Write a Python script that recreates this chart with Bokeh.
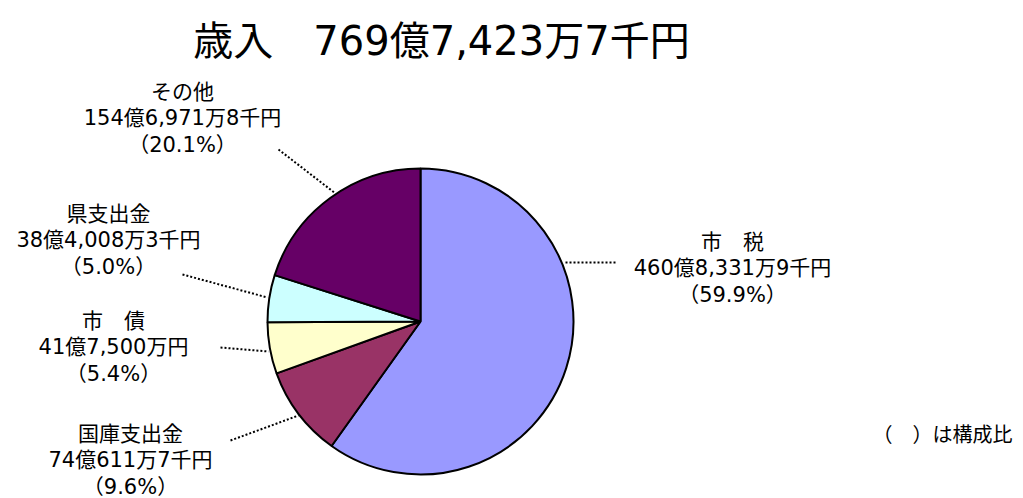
import math
from bokeh.plotting import figure
from bokeh.models import Range1d, ColumnDataSource
from bokeh.core.properties import value
from bokeh.embed import file_html
from bokeh.resources import INLINE

# ---- data (amounts in 千円) ----
categories = ["市　税", "国庫支出金", "市　債", "県支出金", "その他"]
amounts = [46083319, 7406117, 4175000, 3840083, 15469718]
colors = ["#9999FF", "#993366", "#FFFFCC", "#CCFFFF", "#660066"]
title_text = "歳入　769億7,423万7千円"
note_text = "（　）は構成比"

total = sum(amounts)

def fmt_yen(v):
    oku = v // 100000
    man = (v % 100000) // 10
    sen = v % 10
    s = f"{oku}億{man:,}万"
    s += f"{sen}千円" if sen else "円"
    return s

# ---- layout (page pixel coordinates) ----
W, H = 1023, 498
def Y(py):
    return H - py

FONT = "DejaVu Sans, Noto Sans CJK JP"

p = figure(width=W, height=H, output_backend="svg", toolbar_location=None,
           x_range=Range1d(0, W), y_range=Range1d(0, H),
           x_axis_type=None, y_axis_type=None, min_border=0)
p.outline_line_color = None
p.xgrid.visible = False
p.ygrid.visible = False
p.background_fill_color = "white"
p.border_fill_color = "white"

# ---- pie ----
cx, cy, r = 420, Y(321), 153
starts, ends = [], []
cum = 0.0
for v in amounts:
    f0 = cum / total
    cum += v
    f1 = cum / total
    starts.append(math.pi / 2 - f0 * 2 * math.pi)
    ends.append(math.pi / 2 - f1 * 2 * math.pi)
src = ColumnDataSource(dict(start=starts, end=ends, color=colors))
p.wedge(x=cx, y=cy, radius=r, start_angle="start", end_angle="end",
        direction="clock", fill_color="color", line_color="black",
        line_width=2, source=src)

# ---- labels ----
label_pos = {  # centre x, first line y (page coords)
    "市　税": (732, 241),
    "国庫支出金": (130, 433),
    "市　債": (113, 320),
    "県支出金": (108, 213),
    "その他": (182, 91),
}
leaders = {
    "市　税": ((565, 262), (617, 262)),
    "国庫支出金": ((230, 440), (298, 415)),
    "市　債": ((220, 347), (268, 351)),
    "県支出金": ((182, 274), (267, 297)),
    "その他": ((278, 149), (335, 193)),
}
lx, ly, lt = [], [], []
for cat, v in zip(categories, amounts):
    pct = round(v / total * 100, 1)
    lines = [cat, fmt_yen(v), f"（{pct:.1f}%）"]
    x0, y0 = label_pos[cat]
    for i, t in enumerate(lines):
        lx.append(x0)
        ly.append(Y(y0 + i * 26.5))
        lt.append(t)
    (ax, ay), (bx, by) = leaders[cat]
    p.line([ax, bx], [Y(ay), Y(by)], line_color="black", line_width=2,
           line_dash="2 2")

p.text(x=lx, y=ly, text=lt, text_align="center", text_baseline="middle",
       text_font=value(FONT), text_font_size="21px", text_color="black")

# title
p.text(x=[441], y=[Y(40)], text=[title_text], text_align="center",
       text_baseline="middle", text_font=value(FONT), text_font_size="40px",
       text_color="black")

# note
p.text(x=[872], y=[Y(433)], text=[note_text], text_align="left",
       text_baseline="middle", text_font=value("Noto Sans CJK JP"),
       text_font_size="20px", text_color="black")

open("out.html", "w").write(file_html(p, INLINE))
